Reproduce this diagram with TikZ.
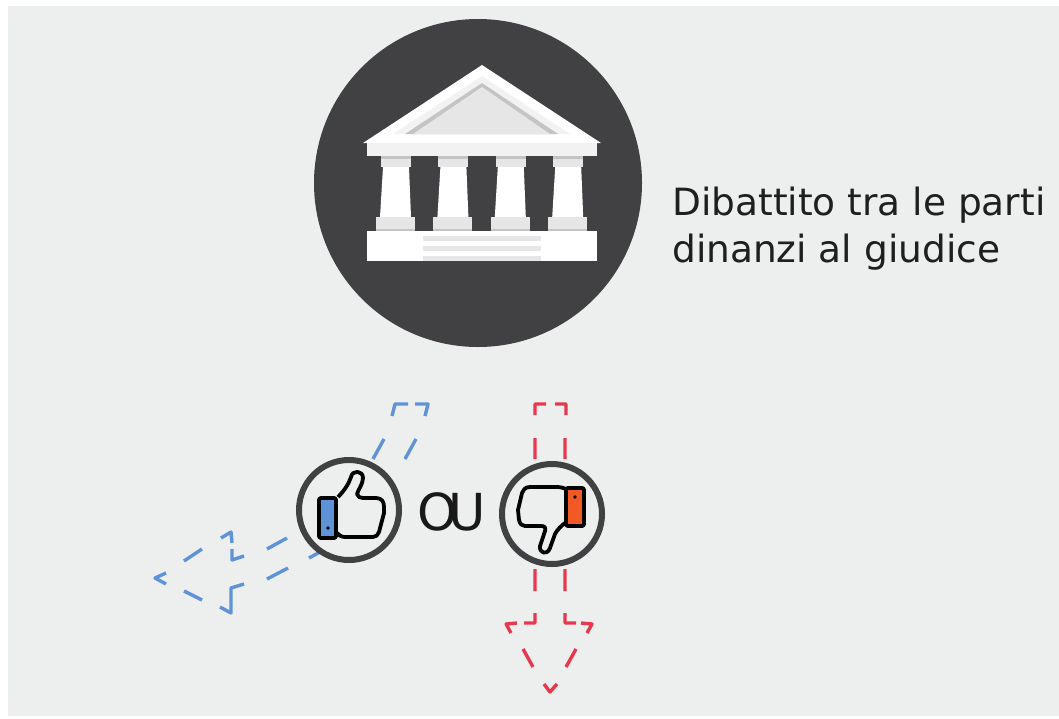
\documentclass[tikz,border=0pt]{standalone}
\usepackage{fontspec}
\setmainfont{DejaVu Sans}
\definecolor{panel}{HTML}{EDEEEE}
\definecolor{slate}{HTML}{414042}
\definecolor{stone}{HTML}{E6E6E6}
\definecolor{stonedark}{HTML}{C4C4C4}
\definecolor{offwhite}{HTML}{F2F2F2}
\definecolor{likeblue}{HTML}{5F93D8}
\definecolor{nored}{HTML}{E8384F}
\definecolor{cufforange}{HTML}{F15A24}
\begin{document}
\begin{tikzpicture}[x=1pt,y=-1pt,line join=round]
  \tikzstyle{ring}=[draw=slate,line width=6pt,fill=panel]
  \tikzstyle{hand}=[draw=black,line width=3.8pt,line join=round]
  \tikzstyle{blue arrow}=[draw=likeblue,line width=3.4pt]
  \tikzstyle{red arrow}=[draw=nored,line width=3.4pt]
  \tikzstyle{caption}=[font=\fontsize{37.5}{47}\selectfont,text=black!88,align=left,anchor=north west,inner sep=0pt]
  \useasboundingbox (0,0) rectangle (1059,718);
  \fill [panel] (8,6) rectangle (1059,716);
  % temple
  \fill [slate] (478,183) circle (164);
  \fill [white] (482,65) -- (601,143) -- (363,143) -- cycle;
  \fill [offwhite] (482,76) -- (570,134) -- (393,134) -- cycle;
  \fill [stonedark] (482,83) -- (558,134) -- (405,134) -- cycle;
  \fill [stone] (482,87) -- (550,134) -- (413,134) -- cycle;
  \fill [offwhite] (367,143) rectangle (597,156);
  \foreach \n in {0,1,2,3} {
    \begin{scope}[xshift=57.4*\n]
      \fill [stone] (381,156) rectangle (411,167);
      \fill [stonedark] (381,156) rectangle (411,158.5);
      \fill [white] (383,167) -- (409,167) -- (411,217) -- (380,217) -- cycle;
      \fill [stone] (376,217) rectangle (415,231);
      \fill [stonedark] (376,229) rectangle (415,231);
    \end{scope}
  }
  \fill [white] (367,231) rectangle (597,261);
  \foreach \y in {236,246,256}
    \fill [stone] (423,\y) rectangle (541,\y+5);
  \node [caption] (debate) at (672,187) {Dibattito tra le parti\\dinanzi al giudice};
  % blue arrow
  \draw [blue arrow] (392,416) -- (395,404) -- (408,404)
    (415,404) -- (428,404) -- (425,416)
    (384,439) -- (373,459) (416,439) -- (405,459)
    (320,552) -- (309,558) (287,538) -- (267,549) (288,568) -- (267,579)
    (244,556) -- (232,560) -- (232,549) (244,584) -- (231,588) -- (231,613) -- (220,607)
    (232,543) -- (231,532) -- (221,538)
    (202,549) -- (184,561) (202,600) -- (184,591)
    (166,573) -- (155,578) -- (166,584);
  % red arrow
  \draw [red arrow] (535,415) -- (535,404) -- (546,404)
    (555,404) -- (566,404) -- (566,415)
    (535,438) -- (535,459) (565,438) -- (565,459)
    (535,569) -- (535,591) (565,569) -- (565,591)
    (535,613) -- (535,623) -- (524,623) (565,613) -- (565,623) -- (576,623)
    (517,623) -- (506,624) -- (511,633) (581,623) -- (592,624) -- (587,633)
    (523,649) -- (533,667) (576,649) -- (566,667)
    (544,684) -- (550,692) -- (557,684);
  % thumbs
  \node [ring,circle,minimum size=100pt,inner sep=0pt] (like) at (349,510) {};
  \node [ring,circle,minimum size=100pt,inner sep=0pt] (dislike) at (552,514) {};
  \draw [hand,fill=likeblue,rounded corners=2pt] (319,498) rectangle (336,538);
  \fill (328,528) circle (1.8);
  \draw [hand] (338,497) .. controls (345,490) and (349,483) .. (351,477)
    .. controls (352,470) and (363,470) .. (363,478)
    .. controls (363,484) and (358,490) .. (357,494)
    .. controls (358,497) and (360,498) .. (363,498) -- (376,498)
    .. controls (382,498) and (384,502) .. (384,507) -- (384,513)
    -- (379,532) .. controls (378,535) and (376,537) .. (373,537) -- (345,537)
    .. controls (341,537) and (339,535) .. (337,533);
  \draw [hand,fill=cufforange,rounded corners=2pt] (566,488) rectangle (584,526);
  \fill (575,497) circle (1.8);
  \draw [hand] (566,489) .. controls (563,488) and (561,487) .. (558,487) -- (530,487)
    .. controls (525,487) and (523,490) .. (522,493) -- (518,510)
    -- (519,520) .. controls (520,524) and (522,526) .. (525,526) -- (541,526)
    .. controls (545,526) and (546,528) .. (545,531) -- (540,546)
    .. controls (539,553) and (547,556) .. (550,548) -- (555,534)
    .. controls (557,530) and (561,526) .. (565,523);
  \node [font=\fontsize{51}{51}\selectfont,text=black!90,inner sep=0pt] (either) at (452,512) {O\kern-9ptU};
\end{tikzpicture}
\end{document}
